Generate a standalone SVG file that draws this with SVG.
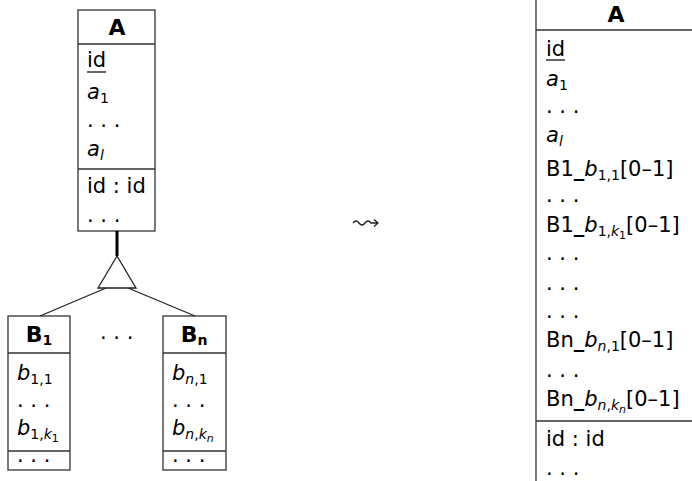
<svg xmlns="http://www.w3.org/2000/svg" width="692" height="481" viewBox="0 0 692 481">
  <style>
    .box { fill: #fff; stroke: #333; stroke-width: 1.3; }
    .sep { stroke: #333; stroke-width: 1.3; }
    .edge { fill: none; stroke: #222; stroke-width: 1.3; }
    text { font-family: "DejaVu Sans", "Liberation Sans", sans-serif; font-size: 21px; fill: #000; }
    .hd { font-weight: bold; text-anchor: middle; font-size: 22px; }
    .it { font-style: italic; }
    .sub { font-size: 14px; }
    .ssub { font-size: 11px; }
    .us { font-weight: bold; }
  </style>

  <rect width="692" height="481" fill="#fff"/>

  <!-- entity A -->
  <g id="entityA">
    <rect class="box" x="78" y="10" width="77" height="221"/>
    <line class="sep" x1="78" y1="44" x2="155" y2="44"/>
    <line class="sep" x1="78" y1="169" x2="155" y2="169"/>
    <text class="hd" x="117" y="35">A</text>
    <text x="87" y="67">id</text>
    <line x1="87" y1="72" x2="106" y2="72" stroke="#000" stroke-width="1.2"/>
    <text x="87" y="99"><tspan class="it">a</tspan><tspan class="sub" dy="4">1</tspan></text>
    <text x="87" y="127">. . .</text>
    <text x="87" y="156"><tspan class="it">a</tspan><tspan class="sub it" dy="4">l</tspan></text>
    <text x="87" y="193">id : id</text>
    <text x="87" y="222">. . .</text>
  </g>

  <!-- entity B1 -->
  <g id="entityB1">
    <rect class="box" x="8" y="316" width="62" height="154"/>
    <line class="sep" x1="8" y1="353" x2="70" y2="353"/>
    <line class="sep" x1="8" y1="451" x2="70" y2="451"/>
    <text class="hd" x="39" y="342">B<tspan class="sub" dy="3">1</tspan></text>
    <text x="17" y="380"><tspan class="it">b</tspan><tspan class="sub" dy="4">1,1</tspan></text>
    <text x="17" y="407">. . .</text>
    <text x="17" y="435"><tspan class="it">b</tspan><tspan class="sub" dy="4">1,</tspan><tspan class="sub it">k</tspan><tspan class="ssub" dy="3">1</tspan></text>
    <text x="17" y="462">. . .</text>
  </g>

  <!-- entity Bn -->
  <g id="entityBn">
    <rect class="box" x="163" y="316" width="63" height="154"/>
    <line class="sep" x1="163" y1="353" x2="226" y2="353"/>
    <line class="sep" x1="163" y1="451" x2="226" y2="451"/>
    <text class="hd" x="194" y="342">B<tspan class="sub" dy="3">n</tspan></text>
    <text x="172" y="380"><tspan class="it">b</tspan><tspan class="sub it" dy="4">n</tspan><tspan class="sub">,1</tspan></text>
    <text x="172" y="407">. . .</text>
    <text x="172" y="435"><tspan class="it">b</tspan><tspan class="sub it" dy="4">n</tspan><tspan class="sub">,</tspan><tspan class="sub it">k</tspan><tspan class="ssub it" dy="3">n</tspan></text>
    <text x="172" y="462">. . .</text>
  </g>

  <!-- elision between the subclasses -->
  <g id="subclassGap">
    <text x="100" y="339">. . .</text>
  </g>

  <!-- generalization connectors -->
  <g id="connectors">
    <line x1="117" y1="231" x2="117" y2="256" stroke="#000" stroke-width="3"/>
    <polygon class="edge" points="117,256 98,288 136,288" fill="#fff"/>
    <line class="edge" x1="106" y1="288" x2="40" y2="316"/>
    <line class="edge" x1="128" y1="288" x2="195" y2="316"/>
    <!-- leads-to arrow -->
    <path class="edge" stroke-width="1" d="M353,223 q3,-4 6,0 t6,0 t6,0 l7,0 M374,219.5 l4,3.5 l-4,3.5"/>
  </g>

  <!-- merged table A -->
  <g id="tableA">
    <rect class="box" x="536" y="-10" width="170" height="510" stroke="#777"/>
    <line class="sep" x1="536" y1="30" x2="700" y2="30"/>
    <line class="sep" x1="536" y1="421" x2="700" y2="421"/>
    <text class="hd" x="616" y="22">A</text>
    <text x="546" y="56">id</text>
    <line x1="546" y1="60" x2="565" y2="60" stroke="#000" stroke-width="1.2"/>
    <text x="546" y="86"><tspan class="it">a</tspan><tspan class="sub" dy="4">1</tspan></text>
    <text x="546" y="113">. . .</text>
    <text x="546" y="142"><tspan class="it">a</tspan><tspan class="sub it" dy="4">l</tspan></text>
    <text x="546" y="176">B1<tspan class="us">_</tspan><tspan class="it">b</tspan><tspan class="sub" dy="4">1,1</tspan><tspan dy="-4">[0–1]</tspan></text>
    <text x="546" y="202">. . .</text>
    <text x="546" y="232">B1<tspan class="us">_</tspan><tspan class="it">b</tspan><tspan class="sub" dy="4">1,</tspan><tspan class="sub it">k</tspan><tspan class="ssub" dy="3">1</tspan><tspan dy="-7">[0–1]</tspan></text>
    <text x="546" y="260">. . .</text>
    <text x="546" y="290">. . .</text>
    <text x="546" y="318">. . .</text>
    <text x="546" y="347">Bn<tspan class="us">_</tspan><tspan class="it">b</tspan><tspan class="sub it" dy="4">n</tspan><tspan class="sub">,1</tspan><tspan dy="-4">[0–1]</tspan></text>
    <text x="546" y="377">. . .</text>
    <text x="546" y="406">Bn<tspan class="us">_</tspan><tspan class="it">b</tspan><tspan class="sub it" dy="4">n</tspan><tspan class="sub">,</tspan><tspan class="sub it">k</tspan><tspan class="ssub it" dy="3">n</tspan><tspan dy="-7">[0–1]</tspan></text>
    <text x="546" y="446">id : id</text>
    <text x="546" y="475">. . .</text>
  </g>
</svg>
